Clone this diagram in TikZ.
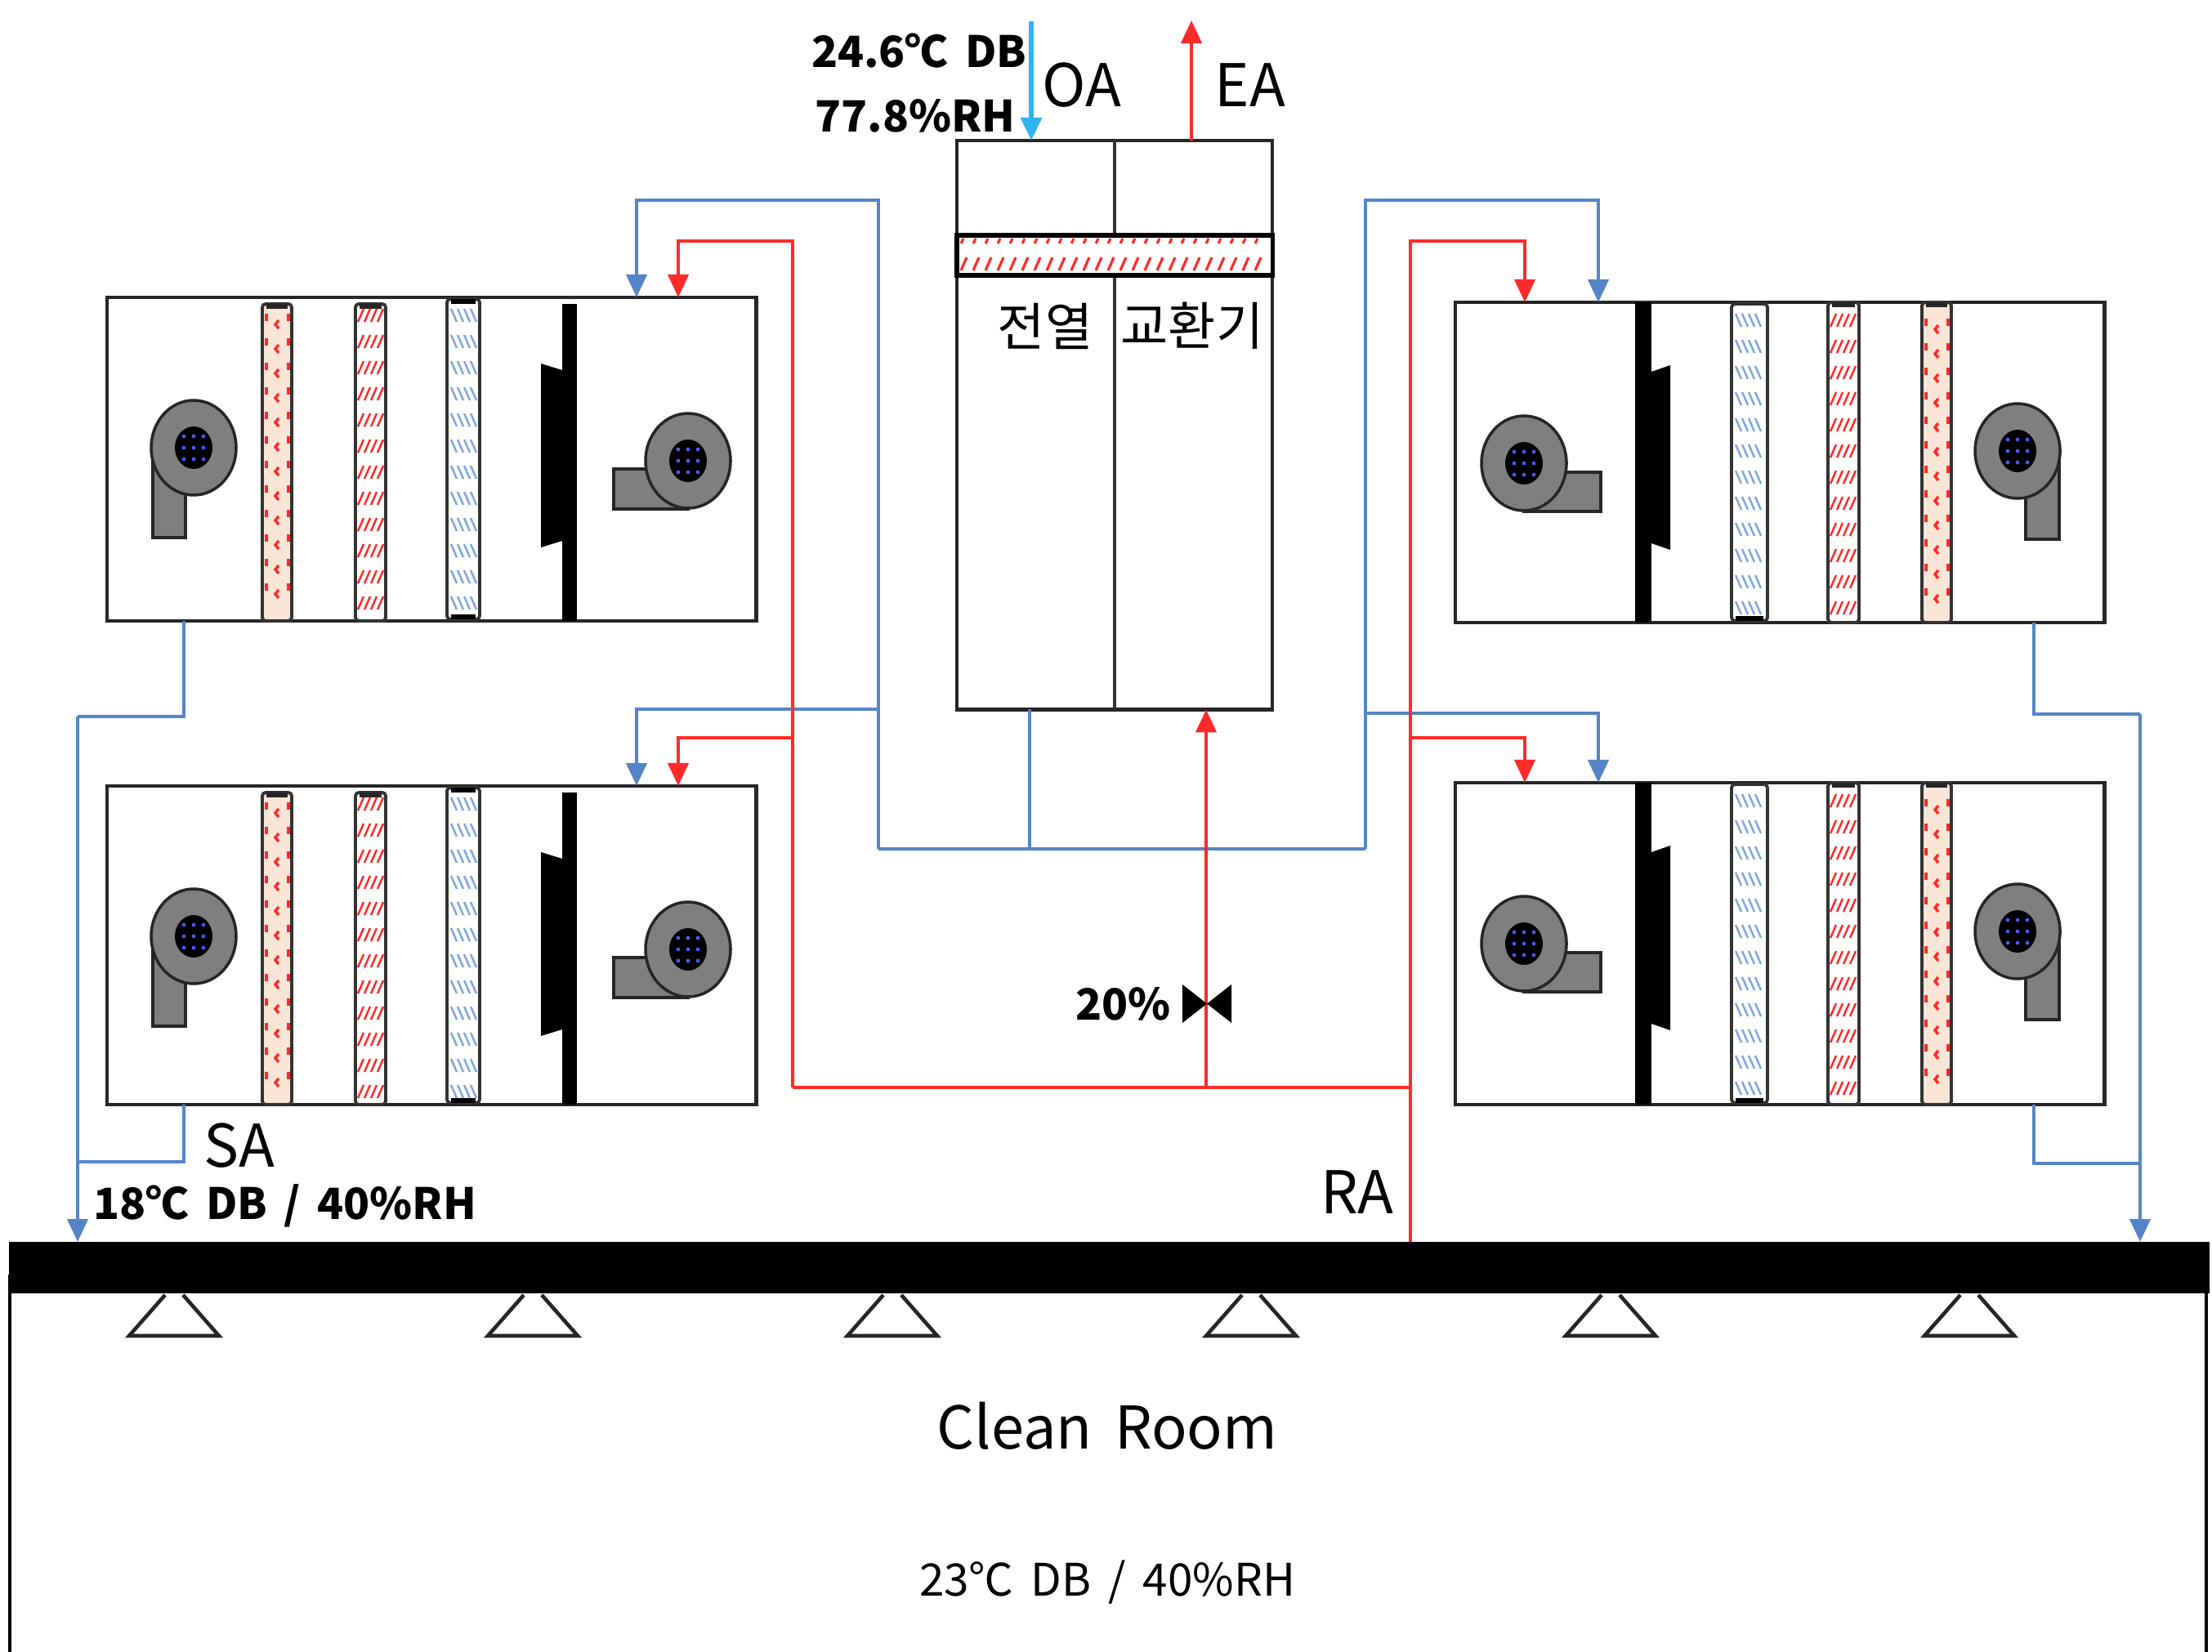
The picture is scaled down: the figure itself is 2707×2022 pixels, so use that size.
\documentclass[tikz,border=0pt]{standalone}
\usepackage{fontspec}
\usepackage{xcolor}
\setmainfont[WordSpace=1.7]{Noto Sans CJK KR}
\usetikzlibrary{arrows.meta,calc,positioning}
\definecolor{pipeblue}{HTML}{5585C6}
\definecolor{pipered}{HTML}{FF2A2A}
\definecolor{oablue}{HTML}{2FB4F2}
\definecolor{peach}{HTML}{FBE5D6}
\definecolor{hatchblue}{HTML}{7FA8DC}
\definecolor{fangray}{HTML}{7F7F7F}

% Coils and fans of one air handling unit: x1, x2, height
\newcommand{\coilpeach}[3]{
    \draw [coil, fill=peach] (#1,\coiltop) rectangle (#2,#3);
    \fill [black!85] ($(#1,\coiltop)+(5,0)$) rectangle ($(#2,\coiltop)+(-5,6)$);
    \foreach \yy in {20,50,...,370} {
        \draw [hatchred, line width=1.1pt] ($(#1,\yy)+(5,0)$) -- ++(0,9);
        \draw [hatchred, line width=1pt] ($(#1,\yy)+(20,8)$) -- ++(-4,5) -- ++(4,5);
        \draw [hatchred, line width=1.1pt] ($(#2,\yy)+(-4,0)$) -- ++(0,9);
    }
}
\newcommand{\coilred}[3]{
    \draw [coil, fill=white] (#1,\coiltop) rectangle (#2,#3);
    \fill [black!85] ($(#1,\coiltop)+(5,0)$) rectangle ($(#2,\coiltop)+(-5,6)$);
    \foreach \yy in {14,46,...,370}
        \foreach \xx in {3,11,19,27}
            \draw [hatchred] ($(#1,\yy)+(\xx,16)$) -- ++(7,-16);
}
\newcommand{\coilblue}[3]{
    \draw [coil, fill=white] (#1,2) rectangle (#2,#3);
    \fill [black] ($(#1,2)+(5,0)$) rectangle ($(#2,2)+(-5,\bluecap)$);
    \fill [black] ($(#1,#3)+(5,-6)$) rectangle ($(#2,#3)+(-5,0)$);
    \foreach \yy in {14,46,...,370}
        \foreach \xx in {5,13,21,29}
            \draw [hatchcold] ($(#1,\yy)+(\xx,0)$) -- ++(7,16);
}
\newcommand{\fancore}[2]{
    \draw [fanbody] (#1,#2) ellipse (52 and 58);
    \fill [black] (#1,#2) ellipse (23 and 26);
    \foreach \xx in {-12,0,12}
        \foreach \yy in {-14,0,14}
            \fill [blue!45!hatchblue] ($(#1,#2)+(\xx,\yy)$) circle (2.4);
}

\begin{document}
\begin{tikzpicture}[x=0.01cm, y=-0.01cm, >={Triangle[length=0.28cm, width=0.25cm]}]
        % Style definitions
        \tikzset{
            ahubox/.style={draw=black!85, fill=white, rectangle, anchor=north west, minimum width=7.94cm, inner sep=0pt, outer sep=0pt, line width=1.2pt},
            coil/.style={draw=black!80, line width=1.1pt, rounded corners=1.2pt},
            hatchred/.style={draw=pipered, line width=0.7pt},
            hatchcold/.style={draw=hatchblue, line width=0.7pt},
            fanbody/.style={draw=black!85, fill=fangray, line width=1pt},
            damper/.style={fill=black, draw=none},
            bluepipe/.style={draw=pipeblue, line width=1.3pt},
            redpipe/.style={draw=pipered, line width=1.2pt},
            lab/.style={font=\fontsize{20.5}{24}\selectfont, inner sep=0pt},
            labkr/.style={font=\fontsize{18}{22}\selectfont, inner sep=0pt},
            labbold/.style={font=\fontsize{15}{18}\selectfont\bfseries, inner sep=0pt},
            diffuser/.style={draw=black!85, fill=white, line width=1.3pt},
            pics/ahuwest/.style={code={
                \def\coiltop{8}\def\bluecap{6}
                \node [ahubox, minimum height=#1*0.01cm] (box) at (0,0) {};
                \coilpeach{190}{226}{#1}
                \coilred{304}{341}{#1}
                \coilblue{416}{456}{#1-2}
                \fill [damper] (557,8) rectangle (575,#1);
                \fill [damper] (531,81) -- (557,89) -- (557,298) -- (531,306) -- cycle;
                \draw [fanbody] (56,184) rectangle (96,294);
                \fancore{106}{184}
                \draw [fanbody] (620,210) rectangle (711,259);
                \fancore{711}{200}
            }},
            pics/ahueast/.style={code={
                \def\coiltop{0}\def\bluecap{0}
                \node [ahubox, minimum height=#1*0.01cm] (box) at (0,0) {};
                \fill [damper] (220,0) rectangle (240,#1);
                \fill [damper] (263,77) -- (240,85) -- (240,295) -- (263,303) -- cycle;
                \coilblue{338}{382}{#1-2}
                \coilred{456}{494}{#1}
                \coilpeach{571}{607}{#1}
                \draw [fanbody] (84,208) rectangle (178,256);
                \fancore{84}{197}
                \draw [fanbody] (698,182) rectangle (739,290);
                \fancore{688}{182}
            }}
        }
        \useasboundingbox (0,0) rectangle (2707,2022);

        % Heat exchanger
        \node [draw=black!85, fill=white, anchor=north west, minimum width=3.86cm, minimum height=6.96cm, inner sep=0pt, outer sep=0pt, line width=1.2pt] (hx) at (1171,172) {};
        \draw [black!80, line width=1.2pt] (hx.north) -- (hx.south);
        \node [draw=black, fill=white, anchor=north west, minimum width=3.86cm, minimum height=0.49cm, inner sep=0pt, outer sep=0pt, line width=1.5pt] (core) at (1171,288) {};
        \foreach \xx in {1176,1191,...,1545} {
            \draw [hatchred, line width=0.9pt] (\xx,298) -- ++(3,-6);
            \draw [hatchred, line width=0.9pt] (\xx,331) -- ++(7,-16);
        }

        % Units
        \pic (nw) at (131,364) {ahuwest=396};
        \pic (sw) at (131,962) {ahuwest=390};
        \pic (ne) at (1781,370) {ahueast=392};
        \pic (se) at (1781,958) {ahueast=394};

        % Clean room
        \draw [black, line width=1pt] (12,2022) -- (12,1560);
        \draw [black, line width=1pt] (2700,2022) -- (2700,1560);
        \node [fill=black, anchor=north west, minimum width=26.91cm, minimum height=0.63cm, inner sep=0pt, outer sep=0pt] (ceiling) at (11,1520) {};
        \foreach \xx in {213,652,1092,1531,1971,2410}
            \draw [diffuser] (\xx-11,1585) -- (\xx-55,1635) -- (\xx+55,1635) -- (\xx+11,1585);

        % Coordinates of the pipe corners
        \coordinate (blueW) at (1075,1039);
        \coordinate (blueE) at (1671,1039);
        \coordinate (hxdrop) at (1260,868);
        \coordinate (bluenw) at (779,245);
        \coordinate (bluesw) at (779,868);
        \coordinate (bluene) at (1956,245);
        \coordinate (bluese) at (1956,873);
        \coordinate (redW) at (970,1331);
        \coordinate (redE) at (1726,1331);
        \coordinate (rednw) at (830,295);
        \coordinate (redsw) at (830,903);
        \coordinate (redne) at (1866,295);
        \coordinate (redse) at (1866,903);
        \coordinate (ratap) at (1476,1331);
        \coordinate (rabase) at (1726,1520);
        \coordinate (oatop) at (1262,26);
        \coordinate (eatop) at (1458,25);
        \coordinate (sanw) at (225,760);
        \coordinate (sasw) at (225,1352);
        \coordinate (sane) at (2489,762);
        \coordinate (sase) at (2489,1352);
        \coordinate (dropW) at (95,877);
        \coordinate (dropE) at (2619,874);

        % Connections
        \draw [bluepipe] (blueW) -- (blueE);
        \draw [bluepipe] (hxdrop) -- (hxdrop |- blueW);
        \draw [bluepipe, ->] (blueW) |- (bluenw) -- (bluenw |- nwbox.north);
        \draw [bluepipe, ->] (blueW |- bluesw) -- (bluesw) -- (bluesw |- swbox.north);
        \draw [bluepipe, ->] (blueE) |- (bluene) -- (bluene |- nebox.north);
        \draw [bluepipe, ->] (blueE |- bluese) -- (bluese) -- (bluese |- sebox.north);
        \draw [redpipe] (redW) -- (redE);
        \draw [redpipe, ->] (redW) |- (rednw) -- (rednw |- nwbox.north);
        \draw [redpipe, ->] (redW |- redsw) -- (redsw) -- (redsw |- swbox.north);
        \draw [redpipe, ->] (rabase) |- (redne) -- (redne |- nebox.north);
        \draw [redpipe, ->] (rabase |- redse) -- (redse) -- (redse |- sebox.north);
        \draw [redpipe, ->] (ratap) -- (ratap |- hx.south);
        \draw [draw=oablue, line width=1.8pt, ->] (oatop) -- (oatop |- hx.north);
        \draw [redpipe, ->] (eatop |- hx.north) -- (eatop);

        % Supply to the room
        \draw [bluepipe] (sanw) |- (dropW);
        \draw [bluepipe, ->] (dropW) -- (dropW |- ceiling.north);
        \draw [bluepipe] (sasw) |- (95,1422);
        \draw [bluepipe] (sane) |- (dropE);
        \draw [bluepipe, ->] (dropE) -- (dropE |- ceiling.north);
        \draw [bluepipe] (sase) |- (2619,1424);

        % Balancing valve
        \fill [black] (1447,1205) -- (1507,1252) -- (1507,1205) -- (1447,1252) -- cycle;

        % Labels
        \node [labbold, anchor=east] (oatemp) at (1257,62) {24.6℃ DB};
        \node [labbold, anchor=east] (oahum) at (1243,142) {77.8\%RH};
        \node [lab] (oa) at (1324,104) {OA};
        \node [lab] (ea) at (1530,104) {EA};
        \node [labkr] (hxleft) at (1279,399) {전열};
        \node [labkr] (hxright) at (1459,399) {교환기};
        \node [labbold, anchor=east] (bypass) at (1433,1229) {20\%};
        \node [lab] (sa) at (293,1402) {SA};
        \node [labbold, anchor=west] (satemp) at (114,1476) {18℃ DB / 40\%RH};
        \node [lab] (ra) at (1661,1459) {RA};
        \node [lab] (room) at (1355,1745) {Clean Room};
        \node [lab, font=\fontsize{15.6}{20}\selectfont] (roomtemp) at (1355,1937) {23℃ DB / 40\%RH};
    \end{tikzpicture}
\end{document}
